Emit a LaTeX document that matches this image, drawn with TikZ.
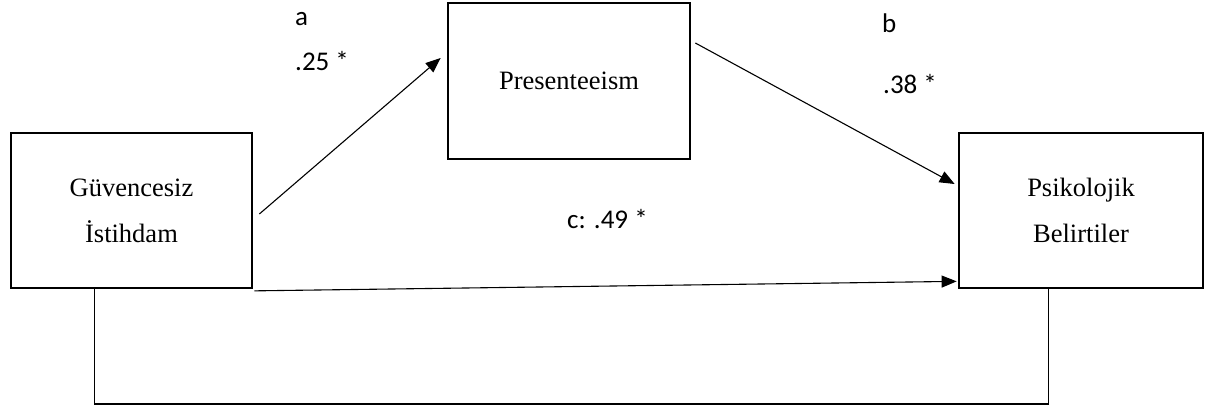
\documentclass[tikz,border=0pt]{standalone}
\usepackage{fontspec}
\setmainfont{Liberation Serif}
\newfontfamily\labelfont{Carlito}
\usetikzlibrary{arrows.meta,calc}
\tikzset{
  varbox/.style={draw, line width=2.7pt, minimum width=#1, minimum height=155pt,
    inner sep=0pt, align=center, font=\fontsize{26.5}{46}\selectfont},
  path/.style={line width=1.1pt, -{Triangle[length=15pt,width=12pt]}},
  bracket/.style={line width=1.1pt},
  coef/.style={anchor=base west, inner sep=0pt, font=\labelfont\fontsize{27}{32}\selectfont}
}
\begin{document}
\begin{tikzpicture}[x=1pt,y=-1pt]
\useasboundingbox (0,0) rectangle (1216,408);
\fill[white] (0,0) rectangle (1216,408);

% variables
\node[varbox=241pt] (gi) at (131.5,210.5) {Güvencesiz\\İstihdam};
\node[varbox=242pt, minimum height=156pt] (pr) at (569,81) {Presenteeism};
\node[varbox=244pt] (pb) at (1081,210.5) {Psikolojik\\Belirtiler};

% paths a, b, c
\draw[path] ($(gi.east)+(6,3.5)$) -- ($(pr.west)+(-6,-23)$);
\draw[path] ($(pr.east)+(4,-38)$) -- ($(pb.west)+(-3,-26.5)$);
\draw[path] ($(gi.south east)+(1,1.5)$) -- ($(pb.south west)+(-1,-8)$);

% lower bracket joining the two outer variables
\coordinate (bl) at ($(gi.south west)+(85,0)$);
\coordinate (br) at ($(pb.south west)+(91,0)$);
\draw[bracket] (bl) -- (bl |- 0,404) -- (br |- 0,404) -- (br);

% coefficients
\node[coef] (la) at (295,25) {a};
\node[coef] (va) at (295,70) {.25 *};
\node[coef] (lb) at (882,32) {b};
\node[coef] (vb) at (883,93) {.38 *};
\node[coef] (vc) at (567,228) {c: .49 *};
\end{tikzpicture}
\end{document}
